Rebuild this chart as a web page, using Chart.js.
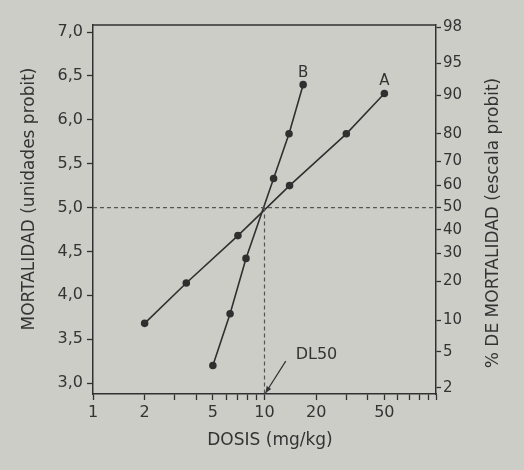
<!DOCTYPE html>
<html>
<head>
<meta charset="utf-8">
<script src="https://cdn.jsdelivr.net/npm/chart.js@4/dist/chart.umd.min.js"></script>
<style>
  body { margin: 0; background: #cdcdc8; }
  #wrap { width: 524px; height: 470px; position: relative; }
</style>
</head>
<body>
<div id="wrap"><canvas id="chart"></canvas></div>
<script>
// dosis (mg/kg) y mortalidad en unidades probit
const doseA = [2, 3.5, 7, 14, 30, 50];
const probitA = [3.68, 4.14, 4.68, 5.25, 5.84, 6.3];
const doseB = [5, 6.3, 7.8, 11.3, 13.9, 16.8];
const probitB = [3.2, 3.79, 4.42, 5.33, 5.84, 6.4];

// ticks
const doseTicks = [1, 2, 3, 4, 5, 6, 7, 8, 9, 10, 20, 30, 40, 50, 60, 70, 80, 90, 100];
const doseLabels = [1, 2, 5, 10, 20, 50];
const probitTicks = [3, 3.5, 4, 4.5, 5, 5.5, 6, 6.5, 7];
const pctLabels = ["2", "5", "10", "20", "30", "40", "50", "60", "70", "80", "90", "95", "98"];
const pctProbits = [2.946, 3.355, 3.718, 4.158, 4.476, 4.747, 5.0, 5.253, 5.524, 5.842, 6.282, 6.645, 7.054];

const dl50 = 10;
const probit50 = 5;
const yMin = 2.875, yMax = 7.08;

const ink = "#303030";
Chart.defaults.font.family = "'DejaVu Sans', sans-serif";
Chart.defaults.font.size = 15;
Chart.defaults.color = "#333";

const toPoints = (xs, ys) => xs.map((x, i) => ({ x: x, y: ys[i] }));

// texts, border, arrow
const extras = {
  id: "extras",
  afterDraw(chart) {
    const ctx = chart.ctx;
    const x = chart.scales.x, y = chart.scales.y;
    const area = chart.chartArea;
    ctx.save();
    ctx.strokeStyle = ink;
    ctx.lineWidth = 1.5;
    ctx.beginPath();
    ctx.moveTo(area.left, area.top);
    ctx.lineTo(area.right, area.top);
    ctx.stroke();

    ctx.fillStyle = "#333";
    ctx.font = "15px 'DejaVu Sans', sans-serif";
    ctx.textAlign = "center";
    ctx.textBaseline = "bottom";
    const lastA = doseA.length - 1, lastB = doseB.length - 1;
    ctx.fillText("A", x.getPixelForValue(doseA[lastA]), y.getPixelForValue(probitA[lastA]) - 5);
    ctx.fillText("B", x.getPixelForValue(doseB[lastB]), y.getPixelForValue(probitB[lastB]) - 4);

    // DL50
    ctx.font = "16px 'DejaVu Sans', sans-serif";
    ctx.textAlign = "left";
    ctx.textBaseline = "middle";
    ctx.fillText("DL50", x.getPixelForValue(15.2), y.getPixelForValue(3.32));
    const ax = x.getPixelForValue(13.3), ay = y.getPixelForValue(3.25);
    const bx = x.getPixelForValue(dl50) + 1, by = area.bottom - 1;
    ctx.lineWidth = 1.2;
    ctx.beginPath();
    ctx.moveTo(ax, ay);
    ctx.lineTo(bx, by);
    ctx.stroke();
    const ang = Math.atan2(by - ay, bx - ax);
    ctx.beginPath();
    ctx.moveTo(bx, by);
    ctx.lineTo(bx - 7 * Math.cos(ang - 0.4), by - 7 * Math.sin(ang - 0.4));
    ctx.lineTo(bx - 7 * Math.cos(ang + 0.4), by - 7 * Math.sin(ang + 0.4));
    ctx.closePath();
    ctx.fill();

    // axis titles
    ctx.font = "17px 'DejaVu Sans', sans-serif";
    ctx.textAlign = "center";
    ctx.fillText("DOSIS (mg/kg)", 270, 441);
    ctx.save();
    ctx.translate(30, 199);
    ctx.rotate(-Math.PI / 2);
    ctx.fillText("MORTALIDAD (unidades probit)", 0, 0);
    ctx.restore();
    ctx.save();
    ctx.translate(494, 223);
    ctx.rotate(-Math.PI / 2);
    ctx.fillText("% DE MORTALIDAD (escala probit)", 0, 0);
    ctx.restore();
    ctx.restore();
  }
};

new Chart(document.querySelector("#chart"), {
  type: "scatter",
  data: {
    datasets: [
      {
        data: [{ x: 1, y: probit50 }, { x: 100, y: probit50 }],
        showLine: true,
        borderColor: "#555",
        borderWidth: 1.2,
        borderDash: [4, 3],
        pointRadius: 0,
      },
      {
        data: [{ x: dl50, y: probit50 }, { x: dl50, y: yMin }],
        showLine: true,
        borderColor: "#555",
        borderWidth: 1.2,
        borderDash: [4, 3],
        pointRadius: 0,
      },
      {
        label: "A",
        data: toPoints(doseA, probitA),
        showLine: true,
        borderColor: ink,
        borderWidth: 1.6,
        pointRadius: 3,
        pointBackgroundColor: ink,
        pointBorderColor: ink,
      },
      {
        label: "B",
        data: toPoints(doseB, probitB),
        showLine: true,
        borderColor: ink,
        borderWidth: 1.6,
        pointRadius: 3,
        pointBackgroundColor: ink,
        pointBorderColor: ink,
      },
    ],
  },
  options: {
    responsive: true,
    maintainAspectRatio: false,
    animation: false,
    layout: { padding: { top: 25, left: 0, right: 0, bottom: 0 } },
    plugins: { legend: { display: false }, tooltip: { enabled: false } },
    scales: {
      x: {
        type: "logarithmic",
        min: 1,
        max: 100,
        afterBuildTicks: (s) => { s.ticks = doseTicks.map((v) => ({ value: v })); },
        afterFit: (s) => { s.height = 76; },
        ticks: {
          autoSkip: false,
          maxRotation: 0,
          padding: 3,
          font: { size: 16 },
          callback: (v) => (doseLabels.includes(v) ? String(v) : ""),
        },
        grid: { drawOnChartArea: false, tickLength: 6, tickColor: ink, tickWidth: 1.3 },
        border: { color: ink, width: 1.5 },
      },
      y: {
        position: "left",
        min: yMin,
        max: yMax,
        afterBuildTicks: (s) => { s.ticks = probitTicks.map((v) => ({ value: v })); },
        afterFit: (s) => { s.width = 93; },
        ticks: {
          padding: 4,
          font: { size: 16 },
          callback: (v) => v.toFixed(1).replace(".", ","),
        },
        grid: { drawOnChartArea: false, tickLength: 6, tickColor: ink, tickWidth: 1.3 },
        border: { color: ink, width: 1.5 },
      },
      y2: {
        position: "right",
        min: yMin,
        max: yMax,
        afterBuildTicks: (s) => { s.ticks = pctProbits.map((v) => ({ value: v })); },
        afterFit: (s) => { s.width = 88; },
        ticks: {
          padding: 2,
          font: { size: 15 },
          callback: (v, i) => pctLabels[i],
        },
        grid: { drawOnChartArea: false, tickLength: 5, tickColor: ink, tickWidth: 1.3 },
        border: { color: ink, width: 1.5 },
      },
    },
  },
  plugins: [extras],
});
</script>
</body>
</html>
